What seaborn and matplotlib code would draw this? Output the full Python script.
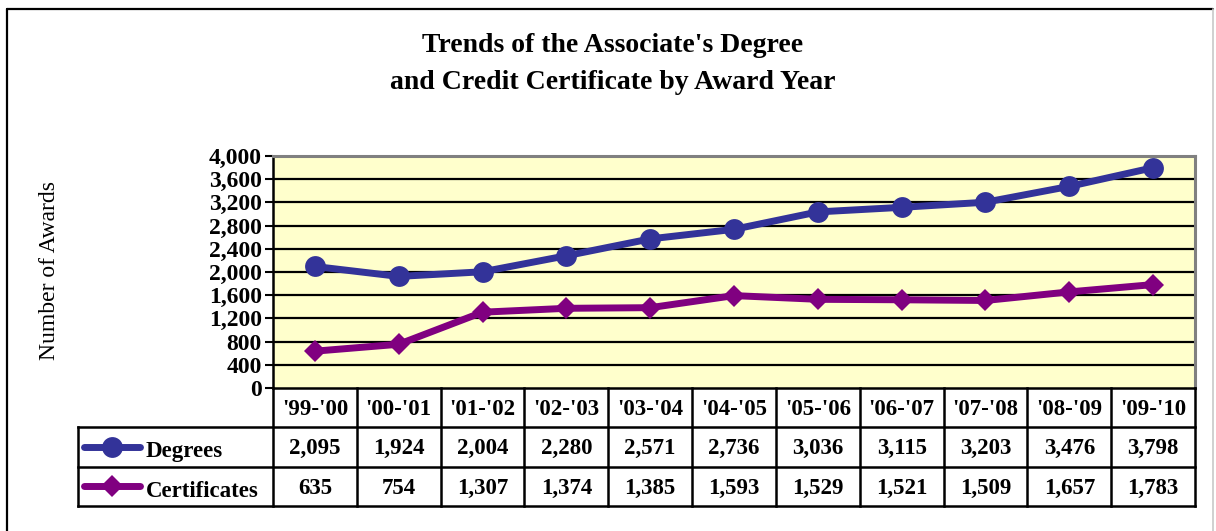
import matplotlib
matplotlib.use("Agg")
import matplotlib.pyplot as plt
import seaborn as sns
import pandas as pd
from matplotlib.lines import Line2D

years = ["'99-'00", "'00-'01", "'01-'02", "'02-'03", "'03-'04", "'04-'05",
         "'05-'06", "'06-'07", "'07-'08", "'08-'09", "'09-'10"]
degrees = [2095, 1924, 2004, 2280, 2571, 2736, 3036, 3115, 3203, 3476, 3798]
certificates = [635, 754, 1307, 1374, 1385, 1593, 1529, 1521, 1509, 1657, 1783]
yticks = [0, 400, 800, 1200, 1600, 2000, 2400, 2800, 3200, 3600, 4000]

sns.set_style("white")
plt.rcParams['font.family'] = ['Liberation Serif', 'DejaVu Serif']
plt.rcParams['text.color'] = 'black'
plt.rcParams['axes.labelcolor'] = 'black'
plt.rcParams['xtick.color'] = 'black'
plt.rcParams['ytick.color'] = 'black'

W, H = 1216, 531
fig = plt.figure(figsize=(W / 100, H / 100), dpi=100)
fig.patch.set_facecolor("white")

def fx(px):
    return px / W

def fy(py):
    return 1 - py / H

# outer frame
fig.add_artist(Line2D([fx(7), fx(7)], [fy(9), fy(540)], color="black", lw=1.6))
fig.add_artist(Line2D([fx(7), fx(1213)], [fy(9), fy(9)], color="black", lw=1.6))
fig.add_artist(Line2D([fx(1213), fx(1213)], [fy(9), fy(540)], color="#c8c8c8", lw=1.2))

L, R, T, B = 273, 1195, 156, 388
ax = fig.add_axes([fx(L), fy(B), fx(R - L), (B - T) / H])
ax.set_facecolor("#FFFFCC")

df = pd.DataFrame({"year": list(range(len(years))) * 2,
                   "value": degrees + certificates,
                   "series": ["Degrees"] * len(years) + ["Certificates"] * len(years)})

sns.lineplot(data=df[df.series == "Degrees"], x="year", y="value", ax=ax,
             color="#333399", marker="o", markersize=15, linewidth=5,
             markeredgewidth=0, legend=False, zorder=5)
sns.lineplot(data=df[df.series == "Certificates"], x="year", y="value", ax=ax,
             color="#800080", marker="D", markersize=11, linewidth=5,
             markeredgewidth=0, legend=False, zorder=5)

ax.set_xlim(-0.5, len(years) - 0.5)
ax.set_ylim(0, 4000)
ax.set_yticks(yticks)
ax.set_yticklabels([f"{v:,}" for v in yticks], fontsize=17, fontweight="bold")
ax.set_xticks([])
ax.set_xlabel("")
ax.set_ylabel("")
for v in yticks[1:-1]:
    ax.axhline(v, color="black", lw=1.6, zorder=1)
ax.tick_params(axis="y", direction="out", length=6, width=1.5, color="black", pad=2,
               left=True)
ax.spines["left"].set_color("black")
ax.spines["left"].set_linewidth(1.8)
ax.spines["bottom"].set_color("black")
ax.spines["bottom"].set_linewidth(1.8)
ax.spines["top"].set_color("#808080")
ax.spines["top"].set_linewidth(2.2)
ax.spines["right"].set_color("#808080")
ax.spines["right"].set_linewidth(2.2)

# y label
fig.text(fx(50), fy(271), "Number of Awards", rotation=90, ha="center", va="center",
         fontsize=17)

# title
fig.text(fx(613), fy(45), "Trends of the Associate's Degree", ha="center", va="center",
         fontsize=20, fontweight="bold")
fig.text(fx(613), fy(82), "and Credit Certificate by Award Year", ha="center", va="center",
         fontsize=20, fontweight="bold")

# data table
TL, TB = 78, 506
unit = (R - L) / len(years)
xmin = -0.5 - (L - TL) / unit
axt = fig.add_axes([fx(TL), fy(TB), fx(R - TL), (TB - B) / H])
axt.set_xlim(xmin, len(years) - 0.5)
axt.set_ylim(3, 0)
axt.axis("off")

def px2x(px):
    return -0.5 + (px - L) / unit

lw = 1.8
n = len(years)
for i in range(n + 1):
    axt.plot([i - 0.5, i - 0.5], [0, 3], color="black", lw=lw, clip_on=False,
             solid_capstyle="projecting")
axt.plot([xmin, xmin], [1, 3], color="black", lw=lw, clip_on=False, solid_capstyle="projecting")
for yv in (1, 2, 3):
    axt.plot([xmin, n - 0.5], [yv, yv], color="black", lw=lw, clip_on=False,
             solid_capstyle="projecting")

fs = 16.5
for i, lab in enumerate(years):
    axt.text(i, 0.55, lab, ha="center", va="center", fontsize=fs, fontweight="bold")
    axt.text(i, 1.55, f"{degrees[i]:,}", ha="center", va="center", fontsize=fs,
             fontweight="bold")
    axt.text(i, 2.55, f"{certificates[i]:,}", ha="center", va="center", fontsize=fs,
             fontweight="bold")

# legend keys
axt.plot([px2x(84), px2x(140)], [1.5, 1.5], color="#333399", lw=5, solid_capstyle="round")
axt.plot([px2x(112)], [1.5], color="#333399", marker="o", markersize=15, markeredgewidth=0)
axt.plot([px2x(84), px2x(140)], [2.5, 2.5], color="#800080", lw=5, solid_capstyle="round")
axt.plot([px2x(112)], [2.5], color="#800080", marker="D", markersize=11, markeredgewidth=0)
axt.text(px2x(146), 1.62, "Degrees", ha="left", va="center", fontsize=fs, fontweight="bold")
axt.text(px2x(146), 2.62, "Certificates", ha="left", va="center", fontsize=fs,
         fontweight="bold")

fig.savefig("out.png", dpi=100, facecolor="white")
